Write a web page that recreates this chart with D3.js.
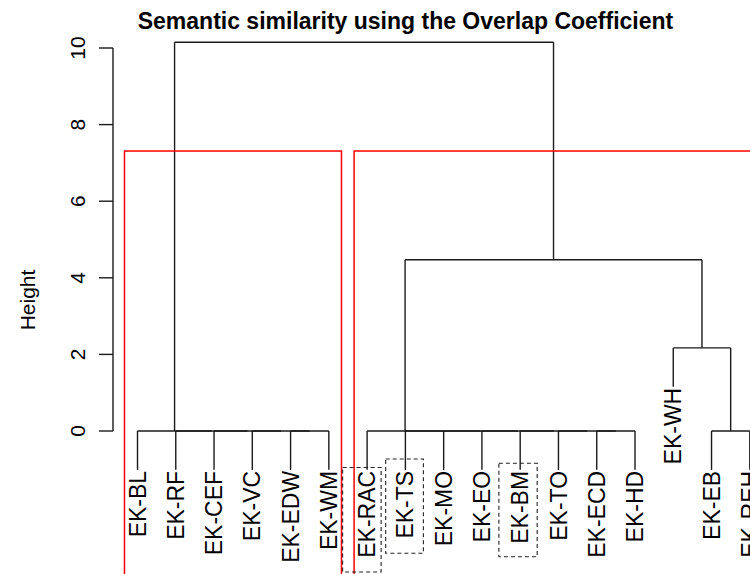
<!DOCTYPE html>
<html><head><meta charset="utf-8">
<script src="https://cdn.jsdelivr.net/npm/d3@7"></script>
<style>
html,body{margin:0;padding:0;background:#fff;}
svg{display:block;}
text{font-family:"Liberation Sans",Arial,Helvetica,sans-serif;fill:#000;}
</style></head>
<body>
<script>
// ---- data ----
const leaves = ["EK-BL","EK-RF","EK-CEF","EK-VC","EK-EDW","EK-WM","EK-RAC","EK-TS","EK-MO","EK-EO","EK-BM","EK-TO","EK-ECD","EK-HD","EK-WH","EK-EB","EK-REH"];
// hclust-style merge table: [left, right, height]; negative = leaf (1-based), positive = earlier merge row (1-based)
const mergeLeft   = [-5,-4,-3,-2,-1,-13,-12,-11,-10,-9,-8,-7,-16,-15,12,5];
const mergeRight  = [-6, 1, 2, 3, 4,-14,  6,  7,  8, 9,10,11,-17, 13,14,15];
const mergeHeight = [ 0, 0, 0, 0, 0,  0,  0,  0,  0, 0, 0, 0,  0,2.17,4.47,10.15];
const yTicks = [0,2,4,6,8,10];
const highlighted = ["EK-RAC","EK-TS","EK-BM"];
const cutK = 2;
const title = "Semantic similarity using the Overlap Coefficient";
const yLabel = "Height";

(function () {
// ---- layout ----
const W = 750, H = 574;
const svg = d3.select("body").append("svg").attr("width", W).attr("height", H);
const x = d3.scaleLinear().domain([1, leaves.length]).range([137.5, 749.8]);
const y = d3.scaleLinear().domain([0, 10]).range([431, 48]);
const maxH = d3.max(mergeHeight);
const hang = 0.1 * maxH;
const lineColor = "#1a1a1a";

// compute node positions (R midpoint rule)
const nodes = mergeHeight.map(() => null);
function pos(ref) {
  if (ref < 0) return { x: -ref, h: null, leaf: -ref - 1 };
  return nodes[ref - 1];
}
mergeHeight.forEach((h, i) => {
  const L = pos(mergeLeft[i]), R = pos(mergeRight[i]);
  nodes[i] = { x: (L.x + R.x) / 2, h: h, L: L, R: R };
});

const gTree = svg.append("g").attr("stroke", lineColor).attr("stroke-width", 1.4).attr("fill", "none");
const leafBottoms = {};
nodes.forEach(n => {
  gTree.append("line").attr("x1", x(n.L.x)).attr("x2", x(n.R.x)).attr("y1", y(n.h)).attr("y2", y(n.h));
  [n.L, n.R].forEach(c => {
    const bottom = c.h === null ? n.h - hang : c.h;
    if (c.h === null) leafBottoms[c.leaf] = bottom;
    gTree.append("line").attr("x1", x(c.x)).attr("x2", x(c.x)).attr("y1", y(n.h)).attr("y2", y(bottom));
  });
});

// leaf labels
leaves.forEach((name, i) => {
  svg.append("text")
    .attr("transform", `translate(${x(i + 1)},${y(leafBottoms[i]) + 1}) rotate(-90)`)
    .attr("text-anchor", "end").attr("dy", "0.35em")
    .attr("font-size", 23).text(name);
});

// y axis
const gAxis = svg.append("g").attr("stroke", lineColor).attr("stroke-width", 1.4);
gAxis.append("line").attr("x1", 113).attr("x2", 113).attr("y1", y(yTicks[0])).attr("y2", y(yTicks[yTicks.length - 1]));
yTicks.forEach(t => {
  gAxis.append("line").attr("x1", 99).attr("x2", 113).attr("y1", y(t)).attr("y2", y(t));
  svg.append("text").attr("transform", `translate(85,${y(t)}) rotate(-90)`)
    .attr("text-anchor", "middle").attr("font-size", 21).text(t);
});
svg.append("text").attr("transform", `translate(35,300) rotate(-90)`)
  .attr("text-anchor", "middle").attr("font-size", 21).text(yLabel);

// title
svg.append("text").attr("x", 405.5).attr("y", 29).attr("text-anchor", "middle")
  .attr("font-size", 23).attr("font-weight", "bold").text(title);

// rect.hclust k=2 (red)
const sortedH = mergeHeight.slice().sort((a, b) => b - a);
const cutH = (sortedH[cutK - 2] + sortedH[cutK - 1]) / 2;
const rootNode = nodes[nodes.length - 1];
function leafRange(n) {
  if (n.h === null) return [n.leaf + 1, n.leaf + 1];
  const a = leafRange(n.L), b = leafRange(n.R);
  return [Math.min(a[0], b[0]), Math.max(a[1], b[1])];
}
[rootNode.L, rootNode.R].forEach(c => {
  const r = leafRange(c);
  svg.append("rect")
    .attr("x", x(r[0] - 1 + 0.66)).attr("y", y(cutH))
    .attr("width", x(r[1] + 0.33) - x(r[0] - 1 + 0.66)).attr("height", 600 - y(cutH))
    .attr("fill", "none").attr("stroke", "#ff0000").attr("stroke-width", 1.5);
});

// dashed highlight boxes around selected labels
const boxPad = { "EK-RAC": [-24.5, 14, 467.5, 572], "EK-TS": [-19.7, 18, 459, 553.3], "EK-BM": [-21.3, 17, 463.3, 556.7] };
highlighted.forEach(name => {
  const i = leaves.indexOf(name);
  const p = boxPad[name];
  const cx = x(i + 1);
  svg.append("rect").attr("x", cx + p[0]).attr("y", p[2])
    .attr("width", p[1] - p[0]).attr("height", p[3] - p[2])
    .attr("fill", "none").attr("stroke", "#222").attr("stroke-width", 1.1)
    .attr("stroke-dasharray", "4,3");
});
})();
</script>
</body></html>
